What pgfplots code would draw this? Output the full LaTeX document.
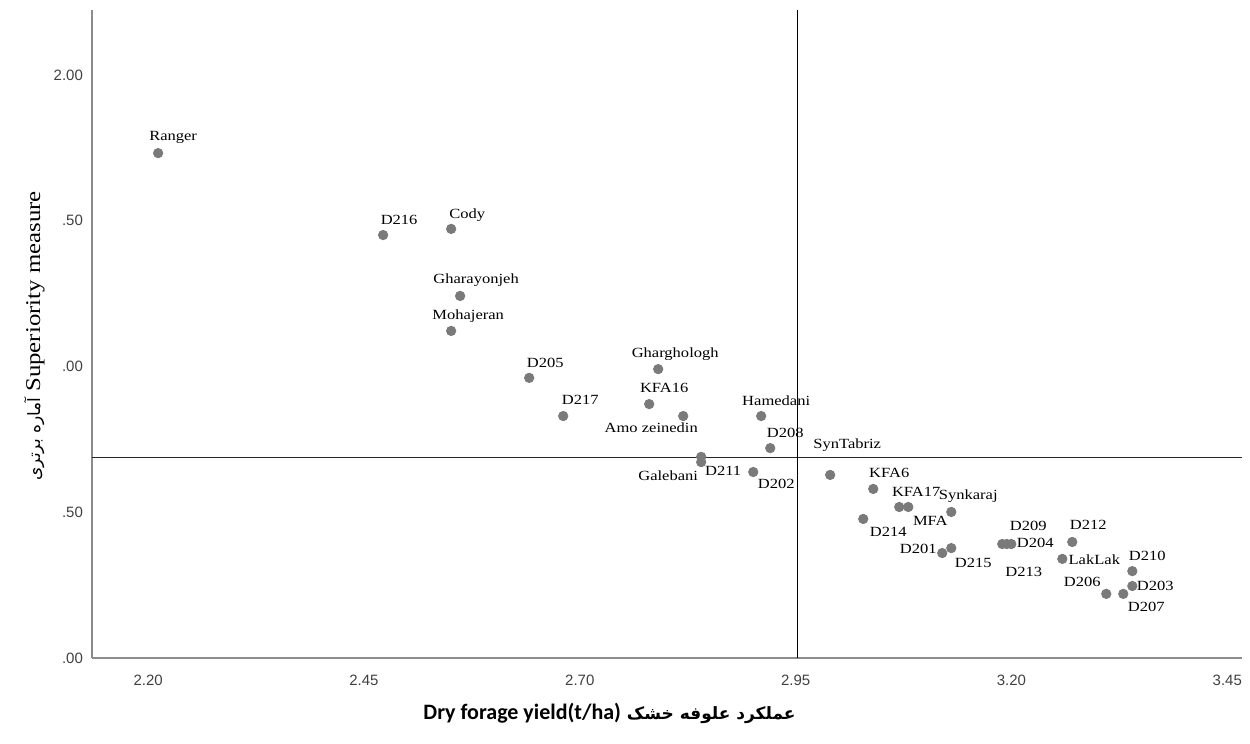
\documentclass[border=0pt]{standalone}
\usepackage{fontspec}
\usepackage{pgfplots}
\pgfplotsset{compat=1.18}
\usepackage{pgfplotstable}
\setmainfont{Liberation Serif}[FakeStretch=1.18]
\newfontfamily\ticksfont{Liberation Sans}
\newfontfamily\calfont{Carlito}
\newfontfamily\arabicfont[Script=Arabic]{DejaVu Sans}
\TeXXeTstate=1
\definecolor{markgray}{RGB}{122,122,122}
\definecolor{axisgray}{RGB}{140,140,140}

\pgfplotstableread{
x      y      label          dx     dy
2.2116 1.732  Ranger         7.5    8
2.4722 1.451  D216           8      7.5
2.5510 1.472  Cody           8      7
2.5614 1.242  Gharayonjeh    8      8
2.5510 1.122  Mohajeran      8.5    7.5
2.6414 0.961  D205           8      7.5
2.7908 0.991  Gharghologh    8.5    7.5
2.7804 0.871  KFA16          7.5    8
2.6808 0.830  D217           8.5    8
2.8198 0.830  {Amo zeinedin} -16    -6
2.9101 0.830  Hamedani       7.5    7.5
2.9206 0.720  D208           7.5    7.5
2.8406 0.690  Galebani       -16.5  -9.5
2.8406 0.672  D211           11     -4.5
2.9009 0.638  D202           11.5   -6
2.9900 0.628  SynTabriz      8.5    15
3.0399 0.580  KFA6           8      8
3.0700 0.518  KFA17          8.5    7.5
3.0805 0.518  MFA            11     -7
3.1303 0.501  Synkaraj       8.5    8
3.0283 0.477  D214           12.5   -6.5
3.1198 0.360  D201           -12    2
3.1303 0.377  D215           11     -7.5
3.1893 0.391  D209           13     9
3.1998 0.391  D204           12     0.5
3.1945 0.391  D213           8.5    -14
3.2704 0.398  D212           8      8.5
3.2589 0.340  LakLak         16     -0.5
3.3400 0.298  D210           7.5    7.5
3.3400 0.247  D203           11.5   0
3.3098 0.220  D206           -12    6
3.3295 0.220  D207           11.5   -6.5
}\pts

\begin{document}
\begin{tikzpicture}
\path[use as bounding box] (-46pt,-43pt) rectangle (579pt,329pt);
\begin{axis}[
  at={(0,0)}, anchor=south west,
  width=575pt, height=324pt, scale only axis,
  xmin=2.135, xmax=3.467, ymin=0, ymax=2.223,
  axis x line*=bottom, axis y line*=left,
  axis line style={-, draw=axisgray, line width=0.75pt},
  xtick={2.2,2.45,2.7,2.95,3.2,3.45},
  xticklabels={2.20,2.45,2.70,2.95,3.20,3.45},
  ytick={0,0.5,1,1.5,2},
  yticklabels={.00,.50,.00,.50,2.00},
  major tick length=0pt,
  tick label style={font=\ticksfont\fontsize{7.5}{9}\selectfont, text=black!75},
  xticklabel style={yshift=-5pt},
  yticklabel style={xshift=-1pt},
  xlabel={{\calfont\bfseries\fontsize{11}{13}\selectfont Dry forage yield(t/ha)}\ {\arabicfont\bfseries\fontsize{8.5}{13}\selectfont\beginR عملکرد علوفه خشک\endR}},
  xlabel style={at={(axis description cs:0.45,-0.085)}, anchor=center},
  ylabel={{\arabicfont\fontsize{8.5}{13}\selectfont\beginR آماره برتری\endR}\ {\fontsize{10.5}{13}\selectfont Superiority measure}},
  ylabel style={at={(axis description cs:-0.05,0.497)}, anchor=center},
  clip=false,
]
\addplot[black!85, line width=0.9pt, forget plot] coordinates {(2.135,0.6875) (3.467,0.6875)};
\addplot[black, line width=0.7pt, forget plot] coordinates {(2.952,0) (2.952,2.223)};
\addplot[only marks, mark=*, mark size=2.35pt,
  mark options={fill=markgray, draw=markgray},
  point meta=explicit symbolic,
  nodes near coords,
  visualization depends on={\thisrow{dx} \as \dx},
  visualization depends on={\thisrow{dy} \as \dy},
  every node near coord/.append style={anchor=center, xshift=\dx*1pt, yshift=\dy*1pt,
     font=\fontsize{7}{8}\selectfont, inner sep=0pt, text=black}
] table[x=x, y=y, meta=label] {\pts};
\end{axis}
\end{tikzpicture}
\end{document}
